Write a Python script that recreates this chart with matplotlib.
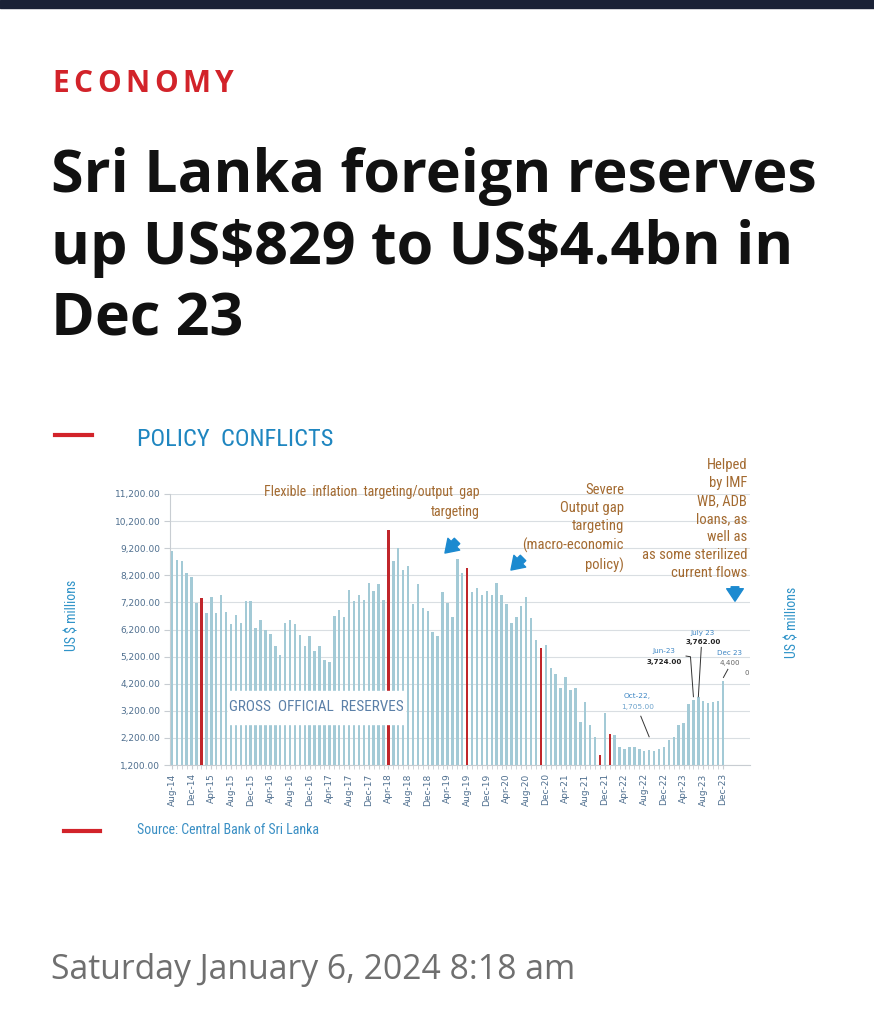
import matplotlib
matplotlib.use("Agg")
import matplotlib.pyplot as plt
from matplotlib import font_manager as fm
from matplotlib.patches import Rectangle, FancyArrowPatch
from matplotlib.lines import Line2D
import pandas as pd
import numpy as np

# ---------------- data ----------------
months = list(pd.date_range("2014-08-01", "2023-12-01", freq="MS").strftime("%b-%y"))
reserves = [
    9100, 8770, 8740, 8300, 8150,                                          # 2014 Aug-Dec
    7190, 7360, 6800, 7410, 6800, 7460, 6850, 6420, 6740, 6450, 7250, 7250,  # 2015
    6240, 6540, 6180, 6030, 5590, 5260, 6440, 6560, 6400, 6010, 5600, 5960,  # 2016
    5420, 5590, 5080, 5010, 6700, 6920, 6670, 7650, 7250, 7460, 7280, 7900,  # 2017
    7630, 7870, 7280, 9870, 8730, 9200, 8400, 8560, 7130, 7870, 6980, 6900,  # 2018
    6110, 5970, 7580, 7170, 6670, 8800, 8300, 8480, 7600, 7740, 7490, 7610,  # 2019
    7460, 7920, 7490, 7150, 6440, 6660, 7060, 7390, 6610, 5830, 5530, 5630,  # 2020
    4790, 4560, 4030, 4450, 3980, 4030, 2800, 3540, 2690, 2250, 1570, 3110,  # 2021
    2340, 2300, 1880, 1800, 1880, 1850, 1800, 1700, 1750, 1705, 1780, 1880,  # 2022
    2120, 2220, 2690, 2760, 3450, 3600, 3720, 3570, 3500, 3520, 3550, 4300,  # 2023
]
policy_conflict_months = ["Feb-15", "Apr-18", "Aug-19", "Nov-20", "Nov-21", "Jan-22"]
tick_labels = ["Aug-14", "Dec-14", "Apr-15", "Aug-15", "Dec-15", "Apr-16", "Aug-16",
               "Dec-16", "Apr-17", "Aug-17", "Dec-17", "Apr-18", "Aug-18", "Dec-18",
               "Apr-19", "Aug-19", "Dec-19", "Apr-20", "Aug-20", "Dec-20", "Apr-21",
               "Aug-21", "Dec-21", "Apr-22", "Aug-22", "Dec-22", "Apr-23", "Aug-23",
               "Dec-23"]
y_ticks = [1200, 2200, 3200, 4200, 5200, 6200, 7200, 8200, 9200, 10200, 11200]

# ---------------- fonts ----------------
def _w(f):
    w = f.weight
    if isinstance(w, str):
        return {"bold": 700, "semibold": 600, "demibold": 600, "heavy": 800,
                "black": 900, "extra bold": 800}.get(w.lower(), 400)
    return int(w)

fonts = fm.fontManager.ttflist
names = {f.name for f in fonts}
bold_names = {f.name for f in fonts if _w(f) >= 700}

def pick(cands, need_bold=False):
    for c in cands:
        if c in (bold_names if need_bold else names):
            return c
    return "DejaVu Sans"

COND = pick(["Liberation Sans Narrow", "Roboto Condensed", "Open Sans Condensed", "Noto Sans"])
HEADB = pick(["Open Sans", "Lato", "Roboto", "Noto Sans"], need_bold=True)
HEAD = pick(["Open Sans", "Noto Sans", "Roboto", "Lato"])

W, H = 874, 1024
fig = plt.figure(figsize=(W / 100, H / 100), dpi=100)
fig.patch.set_facecolor("white")
renderer = fig.canvas.get_renderer()

def fx(x):
    return x / W
def fy(y):
    return 1 - y / H

def fit_width(t, target):
    for _ in range(3):
        w = t.get_window_extent(renderer=renderer).width
        t.set_fontsize(t.get_fontsize() * target / w)

# top navy band
fig.add_artist(Rectangle((0, fy(8)), 1, 8 / H, transform=fig.transFigure,
                         color="#1b2236", zorder=1))

# ECONOMY with letter spacing
eco = "ECONOMY"
eco_size = 21.5
track = 4.6
xpos = 52
for ch in eco:
    t = fig.text(fx(xpos), fy(92), ch, color="#d2232a", fontsize=eco_size,
                 fontweight="bold", family=HEADB, va="baseline", ha="left")
    xpos += t.get_window_extent(renderer=renderer).width + track

# title
title_lines = ["Sri Lanka foreign reserves", "up US\\$829 to US\\$4.4bn in", "Dec 23"]
t0 = fig.text(fx(51), fy(192), title_lines[0], color="#111111", fontsize=40,
              fontweight="bold", family=HEADB, va="baseline", ha="left")
fit_width(t0, 764)
tsize = t0.get_fontsize()
for i, line in enumerate(title_lines[1:], start=1):
    fig.text(fx(51), fy(192 + i * 72), line, color="#111111", fontsize=tsize,
             fontweight="bold", family=HEADB, va="baseline", ha="left")

td = fig.text(fx(51), fy(979), "Saturday January 6, 2024 8:18 am", color="#6f6f6f",
              fontsize=20, family=HEAD, va="baseline", ha="left")
fit_width(td, 524)

# chart section header / footer
fig.add_artist(Line2D([fx(55), fx(92)], [fy(435), fy(435)], transform=fig.transFigure,
                      color="#d2232a", lw=3))
fig.text(fx(137), fy(440), "POLICY  CONFLICTS", color="#1f86c0", fontsize=17.6,
         family=COND, va="center", ha="left")
fig.add_artist(Line2D([fx(64), fx(100)], [fy(831), fy(831)], transform=fig.transFigure,
                      color="#d2232a", lw=3))
fig.text(fx(137), fy(830), "Source: Central Bank of Sri Lanka", color="#3a8fc4",
         fontsize=10, family=COND, va="center", ha="left")

# axes
ax_l, ax_r, ax_t, ax_b = 170, 750, 494, 765
ax = fig.add_axes([fx(ax_l), fy(ax_b), (ax_r - ax_l) / W, (ax_b - ax_t) / H])
x = np.arange(len(months))
colors = ["#c0262b" if m in policy_conflict_months else "#a3cad6" for m in months]
ax.bar(x, reserves, width=0.5, color=colors, zorder=3)
ax.set_xlim(-0.4, 117.5)
ax.set_ylim(1200, 11200)
ax.set_yticks(y_ticks)
ax.set_yticklabels([f"{v:,.2f}" for v in y_ticks], fontsize=6.5, color="#4f6f8f")
ax.grid(axis="y", color="#d9dee2", lw=0.8, zorder=0)
ax.set_xticks([months.index(t) for t in tick_labels])
ax.set_xticklabels(tick_labels, rotation=90, fontsize=6.5, color="#4f6f8f")
ax.set_xticks(x, minor=True)
ax.tick_params(axis="y", length=4, color="#c8cdd2", pad=3)
ax.tick_params(axis="x", which="both", length=3, color="#c8cdd2", pad=3)
for s in ["top", "right"]:
    ax.spines[s].set_visible(False)
for s in ["left", "bottom"]:
    ax.spines[s].set_color("#c8cdd2")
    ax.spines[s].set_linewidth(0.8)

# white label box
fig.add_artist(Rectangle((fx(228), fy(724)), (405 - 228) / W, (724 - 691) / H,
                         transform=fig.transFigure, color="white", zorder=5))
fig.text(fx(316), fy(707), "GROSS  OFFICIAL  RESERVES", color="#5b80a8", fontsize=11,
         family=COND, va="center", ha="center", zorder=6)

brown = "#a36a30"
fig.text(fx(480), fy(502), "Flexible  inflation  targeting/output  gap\ntargeting",
         color=brown, fontsize=10, family=COND, ha="right", va="center",
         multialignment="right", linespacing=1.62)
fig.text(fx(624), fy(528), "Severe\nOutput gap\ntargeting\n(macro-economic\npolicy)",
         color=brown, fontsize=10.5, family=COND, ha="right", va="center",
         multialignment="right", linespacing=1.37)
fig.text(fx(747), fy(519), "Helped\nby IMF\nWB, ADB\nloans, as\nwell as\nas some sterilized\ncurrent flows",
         color=brown, fontsize=10.5, family=COND, ha="right", va="center",
         multialignment="right", linespacing=1.37)

# blue arrows
arrow_kw = dict(arrowstyle="simple,head_width=1.2,head_length=0.9,tail_width=0.55",
                color="#1c8ad0")
for (x0, y0, x1, y1) in [(459, 539, 443, 555), (525, 556, 509, 572), (735, 584, 735, 604)]:
    fig.add_artist(FancyArrowPatch((fx(x0), fy(y0)), (fx(x1), fy(y1)),
                                   transform=fig.transFigure, mutation_scale=10, **arrow_kw))

# y-axis side labels
fig.text(fx(73), fy(615), "US $ millions", rotation=90, color="#2f93c8", fontsize=10,
         family=COND, ha="center", va="center")
fig.text(fx(793), fy(622), "US $ millions", rotation=90, color="#2f93c8", fontsize=10,
         family=COND, ha="center", va="center")

# point annotations
lk = dict(color="#333333", lw=0.7, zorder=4)
i_oct = months.index("Oct-22")
ax.text(i_oct - 3.4, 3740, "Oct-22,", ha="center", va="center", fontsize=5.3, color="#3d86c4")
ax.text(i_oct - 3.4, 3330, "1,705.00", ha="center", va="center", fontsize=5.3, color="#6fa4cc")
ax.plot([i_oct - 2.7, i_oct - 1.0], [3000, 2240], **lk)

i_jun = months.index("Jun-23")
ax.text(i_jun - 6, 5400, "Jun-23", ha="center", va="center", fontsize=5.1, color="#3d86c4")
ax.text(i_jun - 6, 5000, "3,724.00", ha="center", va="center", fontsize=5.1,
        color="#222222", fontweight="bold")
ax.plot([i_jun - 1.5, i_jun - 0.6, i_jun], [5220, 5195, reserves[i_jun] + 120], **lk)

i_jul = months.index("Jul-23")
ax.text(i_jul + 0.9, 6080, "July 23", ha="center", va="center", fontsize=5.1, color="#3d86c4")
ax.text(i_jul + 0.9, 5740, "3,762.00", ha="center", va="center", fontsize=5.1,
        color="#222222", fontweight="bold")
ax.plot([i_jul + 0.6, i_jul], [5540, reserves[i_jul]], **lk)

i_dec = months.index("Dec-23")
ax.text(i_dec + 1.4, 5340, "Dec 23", ha="center", va="center", fontsize=5.1, color="#3d86c4")
ax.text(i_dec + 1.5, 4975, "4,400", ha="center", va="center", fontsize=5.1, color="#666666")
ax.plot([i_dec + 1.0, i_dec + 0.1], [4730, 4430], **lk)
ax.text(i_dec + 4.8, 4580, "0", ha="center", va="center", fontsize=5, color="#666666")

fig.savefig("out.png", dpi=100, facecolor="white")
